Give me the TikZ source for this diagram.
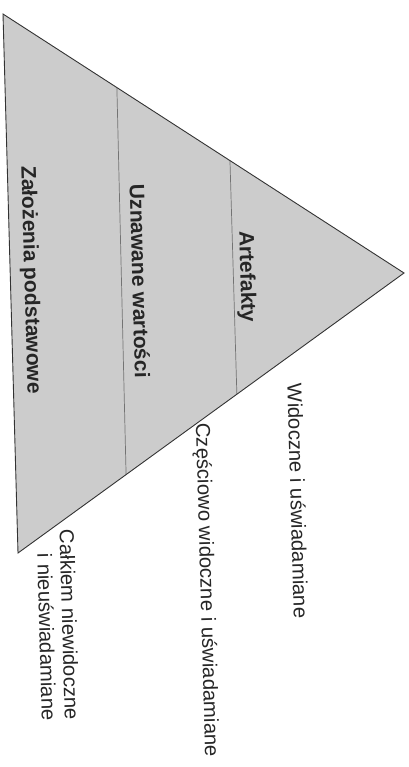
\documentclass[tikz,border=0pt]{standalone}
\usepackage{fontspec}
\setmainfont{Liberation Sans}
\usetikzlibrary{calc}
\begin{document}
\begin{tikzpicture}[x=1pt,y=-1pt,
  edge/.style={draw=black!80,line width=0.9pt,line join=miter},
  divider/.style={draw=black!55,line width=0.7pt},
  layer/.style={font=\fontsize{21}{24}\selectfont\bfseries,rotate=-88.4,inner sep=0pt,text=black!85},
  level/.style={font=\fontsize{20.3}{23}\selectfont,rotate=-88.4,inner sep=0pt,text=black!85,align=right}]
\useasboundingbox (0,0) rectangle (408,767);
\coordinate (A) at (3,14);
\coordinate (B) at (404,273);
\coordinate (C) at (18,553);
\fill[black!20] (A) -- (B) -- (C) -- cycle;
\coordinate (d1t) at ($(A)!0.284!(B)$);
\coordinate (d1b) at ($(B)!0.72!(C)$);
\coordinate (d2t) at ($(A)!0.566!(B)$);
\coordinate (d2b) at ($(B)!0.433!(C)$);
\draw[divider] (d1t) -- (d1b);
\draw[divider] (d2t) -- (d2b);
\draw[edge] (A) -- (B) -- (C) -- cycle;
\node[layer] (zal) at (30,280) {Założenia podstawowe};
\node[layer] (uzn) at (140,281) {Uznawane wartości};
\node[layer] (art) at (246,277) {Artefakty};
\node[level] (wid) at (298,501) {Widoczne i uświadamiane};
\node[level] (cze) at (206,590) {Częściowo widoczne i uświadamiane};
\node[level] (cal) at (58,625) {Całkiem niewidoczne\\i nieuświadamiane};
\end{tikzpicture}
\end{document}
